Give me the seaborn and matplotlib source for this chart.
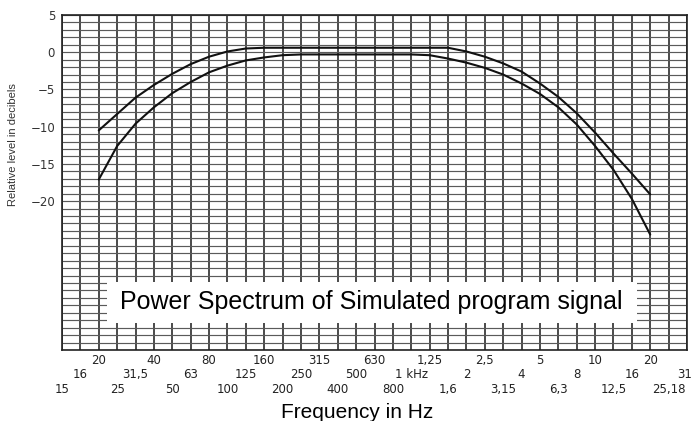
import numpy as np
import pandas as pd
import seaborn as sns
import matplotlib.pyplot as plt
from matplotlib.patches import Rectangle

# third-octave band labels along the x axis (index = position)
band_labels = ["15", "16", "20", "25", "31,5", "40", "50", "63", "80", "100",
               "125", "160", "200", "250", "315", "400", "500", "630", "800", "1 kHz",
               "1,25", "1,6", "2", "2,5", "3,15", "4", "5", "6,3", "8", "10",
               "12,5", "16", "20", "25,18", "31"]

# curves run from 20 Hz (band 2) to 20 kHz (band 32)
curve_bands = list(range(2, 33))
upper_db = [-10.5, -8.3, -6.1, -4.4, -2.9, -1.6, -0.6, 0.1, 0.5, 0.6,
            0.6, 0.6, 0.6, 0.6, 0.6, 0.6, 0.6, 0.6, 0.6, 0.6,
            0.1, -0.6, -1.5, -2.6, -4.2, -6.0, -8.2, -10.8, -13.6, -16.3,
            -19.1]
lower_db = [-17.1, -12.6, -9.6, -7.4, -5.5, -4.0, -2.7, -1.8, -1.1, -0.7,
            -0.4, -0.3, -0.3, -0.3, -0.3, -0.3, -0.3, -0.3, -0.4, -0.85,
            -1.4, -2.1, -3.0, -4.2, -5.6, -7.4, -9.7, -12.6, -15.8, -19.7,
            -24.5]

ytick_vals = [5, 0, -5, -10, -15, -20]
ytick_text = ["5", "0", "\u22125", "\u221210", "\u221215", "\u221220"]

title = "Power Spectrum of Simulated program signal"

df = pd.DataFrame({
    "band": curve_bands * 2,
    "level": upper_db + lower_db,
    "curve": ["upper"] * len(upper_db) + ["lower"] * len(lower_db),
})

sns.set_style("white")
plt.rcParams["font.family"] = ["DejaVu Sans"]

fig = plt.figure(figsize=(6.92, 4.21), dpi=100)
ax = fig.add_axes([62 / 692, 71 / 421, 625 / 692, 335 / 421])

sns.lineplot(data=df, x="band", y="level", hue="curve", palette=["#111111", "#111111"],
             estimator=None, linewidth=1.5, legend=False, ax=ax, zorder=3)

ax.set_xlim(0, len(band_labels) - 1)
ax.set_ylim(-40, 5)

# graph-paper grid: one vertical per band, one horizontal per dB
ax.set_xticks(range(len(band_labels)))
ax.set_xticklabels([])
ax.set_yticks(ytick_vals)
ax.set_yticklabels(ytick_text)
ax.set_yticks(range(-40, 6), minor=True)
ax.tick_params(axis="both", which="both", length=0)
ax.tick_params(axis="y", pad=5, labelsize=8.5, labelcolor="#333333")
ax.grid(axis="x", which="major", color="#222222", linewidth=1.15)
ax.grid(axis="y", which="both", color="#5a5a5a", linewidth=0.85)
for s in ax.spines.values():
    s.set_color("#222222")
    s.set_linewidth(1.2)
ax.set_xlabel("")
ax.set_ylabel("")

# three staggered rows of band labels
row_offsets = [-0.117, -0.073, -0.030]
last = len(band_labels) - 1
for i, lab in enumerate(band_labels):
    ax.text(i + (0.25 if i == last else 0), row_offsets[i % 3], lab,
            transform=ax.get_xaxis_transform(),
            ha="right" if i == last else "center", va="center",
            fontsize=8.5, color="#222222", clip_on=False)

# white label box over the grid
ax.add_patch(Rectangle((45 / 625, 27 / 335), 530 / 625, 41 / 335, transform=ax.transAxes,
                       facecolor="white", edgecolor="none", zorder=4))
ax.text(309.5 / 625, 48 / 335, title, transform=ax.transAxes, ha="center", va="center",
        fontsize=18, family=["Liberation Sans"], color="black", zorder=5)

fig.text(13 / 692, 1 - 144.5 / 421, "Relative level in decibels", rotation=90,
         ha="center", va="center", fontsize=8, family=["Liberation Sans"], color="#333333")
fig.text(357 / 692, 1 - 412 / 421, "Frequency in Hz", ha="center", va="center",
         fontsize=15, family=["Liberation Sans"], color="black")

fig.savefig("out.png", dpi=100)
